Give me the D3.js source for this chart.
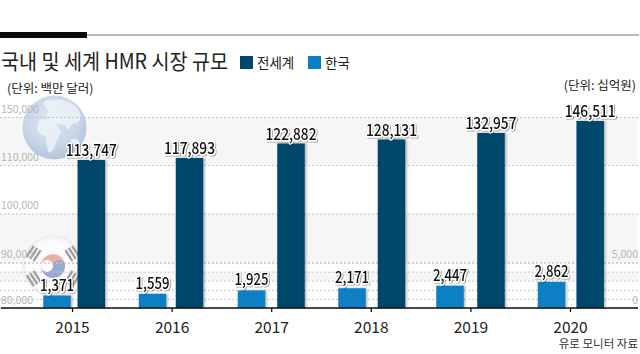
<!DOCTYPE html>
<html>
<head>
<meta charset="utf-8">
<script src="https://cdn.jsdelivr.net/npm/d3@7"></script>
<style>
  html, body { margin: 0; padding: 0; background: #fff; }
  svg { display: block; }
  text { font-family: "Noto Sans CJK KR", "Noto Sans", sans-serif; }
  .value { font-size: 16px; font-weight: 500; fill: #111; paint-order: stroke; stroke: #fff; stroke-width: 3px; stroke-linejoin: round; filter: url(#textShadow); }
  .tick-label text { font-size: 10.5px; fill: #b5b5b5; }
</style>
</head>
<body>
<script>
// Data
const years = ["2015", "2016", "2017", "2018", "2019", "2020"];
const worldValues = [113747, 117893, 122882, 128131, 132957, 146511];
const koreaValues = [1371, 1559, 1925, 2171, 2447, 2862];
const leftTicks = [80000, 90000, 100000, 110000, 150000];
const rightTicks = [0, 1000, 2000, 3000, 4000, 5000];
const rightLabels = [0, 5000];

const width = 640;
const height = 354;
const baseY = 308;

const svg = d3.select("body").append("svg")
    .attr("width", width)
    .attr("height", height);

const defs = svg.append("defs");

const barShadow = defs.append("filter").attr("id", "barShadow")
    .attr("x", "-20%").attr("y", "-5%").attr("width", "150%").attr("height", "110%");
barShadow.append("feDropShadow")
    .attr("dx", 1.5).attr("dy", 0).attr("stdDeviation", 1.2)
    .attr("flood-color", "#000").attr("flood-opacity", 0.3);

const textShadow = defs.append("filter").attr("id", "textShadow")
    .attr("x", "-10%").attr("y", "-20%").attr("width", "125%").attr("height", "150%");
textShadow.append("feDropShadow")
    .attr("dx", 1).attr("dy", 1).attr("stdDeviation", 0.7)
    .attr("flood-color", "#000").attr("flood-opacity", 0.35);

const globeFill = defs.append("radialGradient").attr("id", "globeFill")
    .attr("cx", "45%").attr("cy", "35%").attr("r", "72%");
globeFill.append("stop").attr("offset", "0%").attr("stop-color", "#dde6f1");
globeFill.append("stop").attr("offset", "60%").attr("stop-color", "#c8d6e7");
globeFill.append("stop").attr("offset", "100%").attr("stop-color", "#abc0da");

const discFill = defs.append("radialGradient").attr("id", "discFill");
discFill.append("stop").attr("offset", "0%").attr("stop-color", "#fff");
discFill.append("stop").attr("offset", "82%").attr("stop-color", "#fbfbfb");
discFill.append("stop").attr("offset", "100%").attr("stop-color", "#ebebeb");

// The left axis is broken in the original, so the scale has a stop per bar
const yLeft = d3.scaleLinear()
    .domain([80000, 90000, 100000, 110000, 113747, 117893, 122882, 128131, 132957, 146511, 150000])
    .range([baseY, 262.5, 213.5, 165, 160, 158, 143.5, 139.5, 133, 121, 117]);

const yRight = d3.scaleLinear()
    .domain([0, 5000])
    .range([baseY, 262.5]);

const x = d3.scalePoint()
    .domain(years)
    .range([72, 570]);

// Bars are hand placed in the original, so each series has its own x positions
const xWorld = d3.scaleOrdinal()
    .domain(years)
    .range([91.3, 189.5, 291, 391.5, 491, 590.2]);

const xKorea = d3.scaleOrdinal()
    .domain(years)
    .range([57, 152.5, 251.5, 352, 450, 551.5]);

// Grey bands behind the grid
const bands = [[150000, 110000], [100000, 90000]];
svg.selectAll(".band")
    .data(bands)
    .enter()
    .append("rect")
    .attr("class", "band")
    .attr("x", 0)
    .attr("width", 638)
    .attr("y", d => yLeft(d[0]))
    .attr("height", d => yLeft(d[1]) - yLeft(d[0]))
    .attr("fill", "#f6f6f6");
svg.append("rect")
    .attr("x", 0)
    .attr("width", 638)
    .attr("y", yRight(4000))
    .attr("height", yRight(3000) - yRight(4000))
    .attr("fill", "#f6f6f6");

// Globe picture
const globe = svg.append("g").attr("transform", "translate(54.5,127.5)");
globe.append("circle").attr("r", 32).attr("fill", "url(#globeFill)");
globe.append("path")
    .attr("d", "M-10,-26 C0,-30 16,-28 24,-18 C28,-10 26,-6 22,-4 C18,-6 17,-2 14,3 C11,-1 9,-4 5,-4 C2,-2 -1,-6 -4,-7 C-8,-8 -10,-14 -6,-16 C-8,-20 -12,-22 -10,-26 Z M-14,-8 C-8,-9 -3,-6 1,-4 C4,-1 4,2 7,3 C5,8 3,12 1,16 C0,21 -3,25 -6,25 C-8,20 -8,14 -9,9 C-13,7 -18,6 -17,0 C-17,-3 -16,-6 -14,-8 Z M16,12 C20,10 25,12 25,15 C22,19 17,18 16,12 Z")
    .attr("fill", "#f0f4f9")
    .attr("opacity", 0.75);

// Taegukgi picture
const flag = svg.append("g").attr("transform", "translate(53,266)");
flag.append("circle").attr("r", 31).attr("fill", "url(#discFill)").attr("opacity", 0.9);
flag.append("path")
    .attr("d", "M-12,0 A12,12 0 0 1 12,0 A6,6 0 0 1 0,0 A6,6 0 0 0 -12,0 Z")
    .attr("fill", "#e9b1a6");
flag.append("path")
    .attr("d", "M-12,0 A12,12 0 0 0 12,0 A6,6 0 0 0 0,0 A6,6 0 0 1 -12,0 Z")
    .attr("fill", "#9aa9cf");
[-57, 57, 123, -123].forEach(angle => {
    const bars = flag.append("g").attr("transform", `rotate(${angle}) translate(0,-23)`);
    [-4, 0, 4].forEach(dy => {
        bars.append("rect")
            .attr("x", -6.5).attr("y", dy - 1.2).attr("width", 13).attr("height", 2.4)
            .attr("fill", "#a0a0a0");
    });
});

// Left axis
const leftAxis = svg.append("g")
    .attr("class", "tick-label")
    .call(d3.axisRight(yLeft).tickValues(leftTicks).tickSize(638).tickFormat(d3.format(",")));
leftAxis.select(".domain").remove();
leftAxis.selectAll("line")
    .attr("stroke", "#c4c4c4")
    .attr("stroke-dasharray", "2,2");
leftAxis.selectAll("text")
    .attr("x", 1)
    .attr("y", -8)
    .attr("dy", "0.32em")
    .attr("text-anchor", "start");

// Right axis
const rightAxis = svg.append("g")
    .attr("class", "tick-label")
    .attr("transform", "translate(638,0)")
    .call(d3.axisLeft(yRight).tickValues(rightTicks).tickSize(638)
        .tickFormat(d => rightLabels.includes(d) ? d3.format(",")(d) : ""));
rightAxis.select(".domain").remove();
rightAxis.selectAll("line")
    .attr("stroke", "#c4c4c4")
    .attr("stroke-dasharray", "2,2");
rightAxis.selectAll("text")
    .attr("x", 0)
    .attr("y", -8)
    .attr("dy", "0.32em")
    .attr("text-anchor", "end");

// Bars
const barWidth = 27.5;

svg.selectAll(".world")
    .data(worldValues)
    .enter()
    .append("rect")
    .attr("class", "world")
    .attr("x", (d, i) => xWorld(years[i]) - barWidth / 2)
    .attr("width", barWidth)
    .attr("y", d => yLeft(d))
    .attr("height", d => baseY - yLeft(d))
    .attr("fill", "#02476c")
    .attr("filter", "url(#barShadow)");

svg.selectAll(".korea")
    .data(koreaValues)
    .enter()
    .append("rect")
    .attr("class", "korea")
    .attr("x", (d, i) => xKorea(years[i]) - barWidth / 2)
    .attr("width", barWidth)
    .attr("y", d => yRight(d))
    .attr("height", d => baseY - yRight(d))
    .attr("fill", "#0a7fc4")
    .attr("filter", "url(#barShadow)");

// Bar labels, squeezed to the narrow width of the original digits
svg.selectAll(".world-label")
    .data(worldValues)
    .enter()
    .append("text")
    .attr("class", "value world-label")
    .attr("x", (d, i) => xWorld(years[i]))
    .attr("y", d => yLeft(d) - 4)
    .attr("text-anchor", "middle")
    .attr("textLength", 51)
    .attr("lengthAdjust", "spacingAndGlyphs")
    .text(d3.format(","));

svg.selectAll(".korea-label")
    .data(koreaValues)
    .enter()
    .append("text")
    .attr("class", "value korea-label")
    .attr("x", (d, i) => xKorea(years[i]))
    .attr("y", d => yRight(d) - 5)
    .attr("text-anchor", "middle")
    .attr("textLength", 34)
    .attr("lengthAdjust", "spacingAndGlyphs")
    .text(d3.format(","));

// Year axis
const xAxis = svg.append("g")
    .attr("transform", `translate(0,${baseY})`)
    .call(d3.axisBottom(x).tickSize(4).tickPadding(10).tickSizeOuter(0));
xAxis.select(".domain").remove();
xAxis.selectAll("line").attr("stroke", "#000").attr("stroke-width", 1.2);
xAxis.selectAll("text")
    .style("font-size", "15.5px")
    .style("fill", "#222");
svg.append("line")
    .attr("x1", 1).attr("x2", 638)
    .attr("y1", baseY).attr("y2", baseY)
    .attr("stroke", "#111")
    .attr("stroke-width", 1.4);

// Top rules
svg.append("line")
    .attr("x1", 87).attr("x2", 639)
    .attr("y1", 35).attr("y2", 35)
    .attr("stroke", "#777")
    .attr("stroke-width", 1);
svg.append("rect")
    .attr("x", 0).attr("y", 32)
    .attr("width", 87).attr("height", 6)
    .attr("fill", "#0a0a0a");

// Title and units
svg.append("text")
    .attr("x", 1).attr("y", 69)
    .attr("textLength", 227)
    .attr("lengthAdjust", "spacingAndGlyphs")
    .style("font-size", "21px")
    .style("font-weight", "400")
    .style("fill", "#222")
    .text("국내 및 세계 HMR 시장 규모");

svg.append("text")
    .attr("x", 7).attr("y", 93)
    .style("font-size", "12.5px")
    .style("fill", "#222")
    .text("(단위: 백만 달러)");

svg.append("text")
    .attr("x", 636).attr("y", 90)
    .attr("text-anchor", "end")
    .style("font-size", "12.5px")
    .style("fill", "#222")
    .text("(단위: 십억원)");

svg.append("text")
    .attr("x", 638).attr("y", 348)
    .attr("text-anchor", "end")
    .style("font-size", "11.5px")
    .style("fill", "#333")
    .text("유로 모니터 자료");

// Legend
const legendNames = ["전세계", "한국"];
const legendColors = ["#02476c", "#0a7fc4"];
const legendX = [240, 308];
const legend = svg.selectAll(".legend")
    .data(legendNames)
    .enter()
    .append("g")
    .attr("class", "legend")
    .attr("transform", (d, i) => `translate(${legendX[i]},56)`);
legend.append("rect")
    .attr("width", 13)
    .attr("height", 13)
    .attr("fill", (d, i) => legendColors[i]);
legend.append("text")
    .attr("x", 17)
    .attr("y", 12)
    .style("font-size", "13.5px")
    .style("fill", "#222")
    .text(d => d);
</script>
</body>
</html>
